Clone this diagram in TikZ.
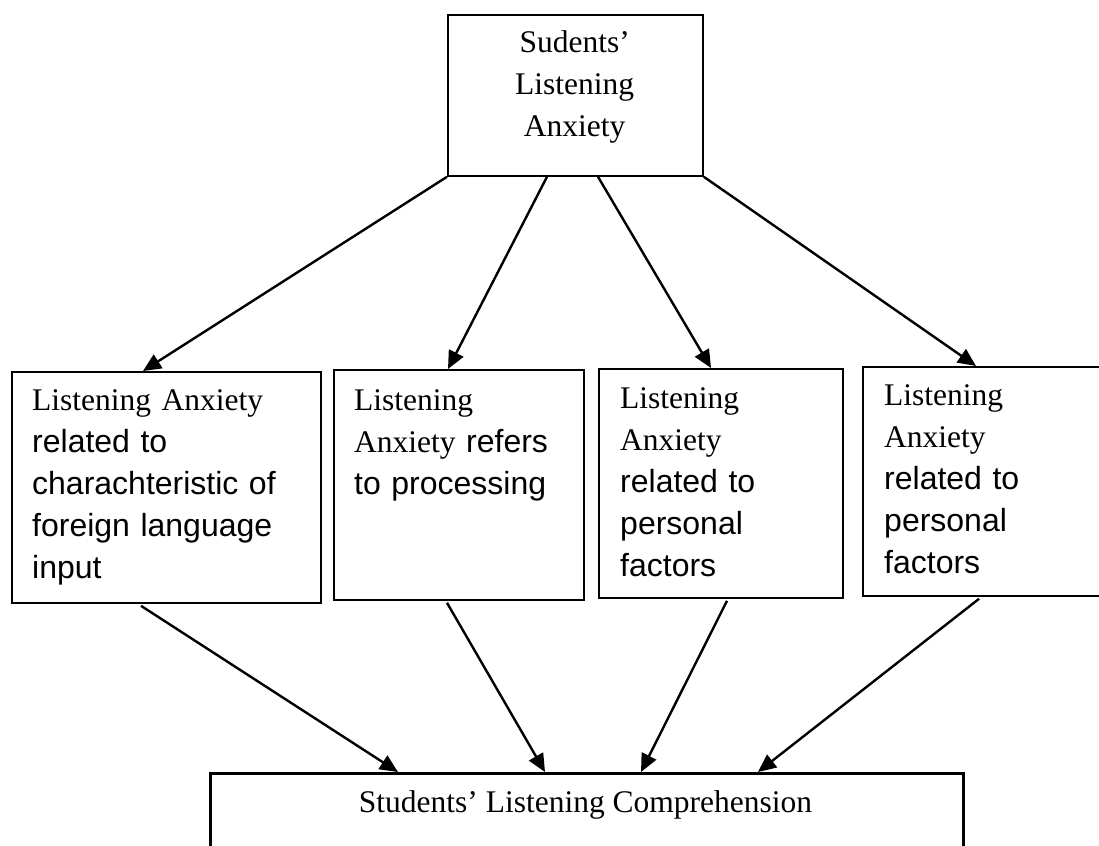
\documentclass[tikz,border=0pt]{standalone}
\usepackage{fontspec}
\setmainfont{Liberation Serif}
\newfontfamily\arialf{Liberation Sans}
\usetikzlibrary{arrows.meta,calc}
\newcommand{\ar}[1]{{\arialf\fontsize{32}{42}\selectfont #1}}
\begin{document}
\begin{tikzpicture}[x=1pt,y=-1pt,
  box/.style={draw,line width=1.8pt,inner sep=0pt,anchor=north west},
  conn/.style={line width=2.4pt,-{Triangle[length=18pt,width=16pt]}},
  txt/.style={inner sep=0pt,font=\fontsize{31.5}{42}\selectfont,text width=#1,align=left,anchor=base west},
  ctxt/.style={inner sep=0pt,font=\fontsize{31.5}{42}\selectfont,align=center,anchor=base}]
\useasboundingbox (0,0) rectangle (1099,845);
\clip (0,0) rectangle (1099,845);
% boxes
\node[box,minimum width=255pt,minimum height=161pt] (top) at (447,14) {};
\node[box,minimum width=309pt,minimum height=231pt] (b1) at (11,371) {};
\node[box,minimum width=250pt,minimum height=230pt] (b2) at (333,369) {};
\node[box,minimum width=244pt,minimum height=229pt] (b3) at (598,368) {};
\node[box,minimum width=260pt,minimum height=229pt] (b4) at (862,366) {};
\node[box,line width=2.8pt,minimum width=753pt,minimum height=100pt] (bot) at (209,772) {};
% texts
\node[txt=150pt,align=center] (ttop) at (499.5,53) {Sudents'\\Listening\\Anxiety};
\node[txt=285pt] (t1) at (32,410) {Listening Anxiety\\\ar{related to}\\\ar{charachteristic of}\\\ar{foreign language}\\\ar{input}};
\node[txt=225pt] (t2) at (354,410) {Listening\\Anxiety\ar{ refers}\\\ar{to processing}};
\node[txt=215pt] (t3) at (620,408) {Listening\\Anxiety\\\ar{related to}\\\ar{personal}\\\ar{factors}};
\node[txt=210pt] (t4) at (884,405) {Listening\\Anxiety\\\ar{related to}\\\ar{personal}\\\ar{factors}};
\node[ctxt] (tbot) at (585.5,812) {Students' Listening Comprehension};
% connectors
\draw[conn] (top.south west) -- ($(b1.north west)+(132,0)$);
\draw[conn] ($(top.south west)+(100,0)$) -- ($(b2.north west)+(115,0)$);
\draw[conn] ($(top.south west)+(151,0)$) -- ($(b3.north west)+(113,0)$);
\draw[conn] (top.south east) -- ($(b4.north west)+(114,0)$);
\draw[conn] ($(b1.south west)+(130,2)$) -- ($(bot.north west)+(189,0)$);
\draw[conn] ($(b2.south west)+(114,2)$) -- ($(bot.north west)+(336,0)$);
\draw[conn] ($(b3.south west)+(129,2)$) -- ($(bot.north west)+(432,0)$);
\draw[conn] ($(b4.south west)+(117,2)$) -- ($(bot.north west)+(549,0)$);
\end{tikzpicture}
\end{document}
